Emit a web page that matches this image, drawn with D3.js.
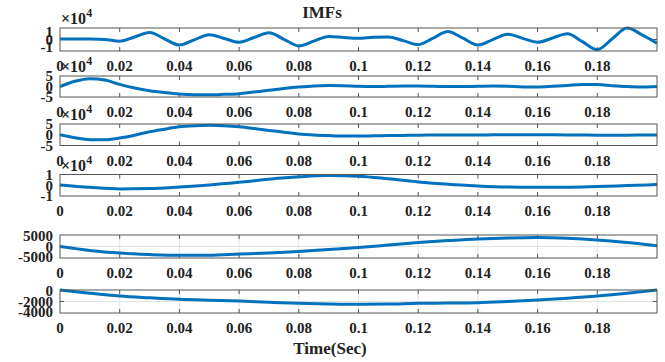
<!DOCTYPE html>
<html lang="en">
<head>
    <meta charset="UTF-8">
    <title>IMFs</title>
    <script src="https://d3js.org/d3.v7.min.js"></script>
    <style>
        body { margin: 0; background: #fff; }
        text { font-family: "Liberation Serif", "Times New Roman", serif; font-weight: bold; fill: #222; }
    </style>
</head>
<body>
    <svg width="665" height="362"></svg>
    <script>
        const width = 665, height = 362;

        // sample times (s)
        const tFine = [0, 0.005, 0.01, 0.015, 0.02, 0.025, 0.03, 0.035, 0.04, 0.045,
            0.05, 0.055, 0.06, 0.065, 0.07, 0.075, 0.08, 0.085, 0.09, 0.095,
            0.1, 0.105, 0.11, 0.115, 0.12, 0.125, 0.13, 0.135, 0.14, 0.145,
            0.15, 0.155, 0.16, 0.165, 0.17, 0.175, 0.18, 0.185, 0.19, 0.195, 0.2];
        const tCoarse = [0, 0.01, 0.02, 0.03, 0.04, 0.05, 0.06, 0.07, 0.08, 0.09, 0.1,
            0.11, 0.12, 0.13, 0.14, 0.15, 0.16, 0.17, 0.18, 0.19, 0.2];

        // IMF values (x10^4 for the first four)
        const imf1 = [0.05, 0.05, 0.04, 0.0, -0.15, 0.22, 0.6, 0.06, -0.48, -0.03,
            0.42, 0.09, -0.24, 0.17, 0.58, 0.02, -0.55, -0.14, 0.27, 0.17,
            0.1, 0.2, 0.22, -0.1, -0.45, 0.12, 0.7, 0.11, -0.48, -0.01,
            0.45, 0.1, -0.24, 0.13, 0.5, -0.19, -0.88, 0.06, 1.0, 0.4, -0.33];
        const imf2 = [0.0, 2.5, 3.7, 3.1, 1.0, -0.7, -2.0, -2.9, -3.6, -3.9,
            -3.9, -3.7, -3.4, -2.6, -1.8, -0.9, -0.2, 0.2, 0.5, 0.4,
            0.1, 0.0, 0.1, 0.2, 0.2, 0.1, 0.0, 0.0, 0.1, 0.2,
            0.1, -0.2, -0.2, 0.1, 0.5, 0.9, 0.9, 0.4, 0.0, -0.2, 0.0];
        const imf3 = [0.0, -1.4, -2.3, -2.3, -1.5, -0.2, 1.4, 2.6, 3.7, 4.2,
            4.4, 4.2, 3.7, 2.9, 2.0, 1.2, 0.4, -0.1, -0.4, -0.6,
            -0.6, -0.5, -0.4, -0.3, -0.2, -0.15, -0.1, -0.1, -0.1, -0.05,
            0.0, 0.0, 0.0, -0.05, -0.1, -0.15, -0.2, -0.2, -0.2, -0.15, -0.1];
        const imf4 = [0.03, -0.19, -0.34, -0.31, -0.16, 0.03, 0.28, 0.56, 0.78, 0.9,
            0.84, 0.6, 0.31, 0.09, -0.06, -0.16, -0.19, -0.19, -0.12, -0.03, 0.06];
        const imf5 = [0, -1700, -2850, -3500, -3850, -3800, -3300, -2800, -2140, -1300,
            -430, 650, 1720, 2570, 3300, 3730, 3860, 3600, 2870, 1720, 300];
        const imf6 = [0, -560, -1040, -1350, -1620, -1780, -1910, -2130, -2320, -2430,
            -2490, -2450, -2320, -2280, -2200, -1990, -1740, -1420, -1040, -560, 0];

        const xTicks = [0, 0.02, 0.04, 0.06, 0.08, 0.1, 0.12, 0.14, 0.16, 0.18];
        const yTicks1 = [-1, 0, 1];
        const yTicks5 = [-5, 0, 5];
        const yTicks5000 = [-5000, 0, 5000];
        const yTicks4000 = [-4000, -2000, 0];

        const panels = [
            { t: tFine, v: imf1, dom: [-1, 1], ticks: yTicks1, exp: true, grid: false },
            { t: tFine, v: imf2, dom: [-5, 5], ticks: yTicks5, exp: true, grid: false },
            { t: tFine, v: imf3, dom: [-5, 5], ticks: yTicks5, exp: true, grid: false },
            { t: tCoarse, v: imf4, dom: [-1, 1], ticks: yTicks1, exp: true, grid: false },
            { t: tCoarse, v: imf5, dom: [-5000, 5000], ticks: yTicks5000, exp: false, grid: true },
            { t: tCoarse, v: imf6, dom: [-4000, 0], ticks: yTicks4000, exp: false, grid: true }
        ];
        // vertical extent of each axes box, and how far the end y labels are pulled inward
        const boxes = [[28, 51], [76, 97], [124, 145.5], [174.5, 196], [235, 258], [290, 313]];
        const labelInset = [4, 0, 0, 0, 1, 1];

        const svg = d3.select("svg");
        const x = d3.scaleLinear().domain([0, 0.2]).range([60, 657]);
        const fmt = d => d === 0 ? "0" : String(d);
        const tickLen = 4;

        panels.forEach((p, i) => {
            const [top, bot] = boxes[i];
            const y = d3.scaleLinear().domain(p.dom).range([bot, top]);
            const g = svg.append("g");

            if (p.grid) {
                g.selectAll(".gx").data(xTicks.slice(1)).enter().append("line")
                    .attr("x1", d => x(d)).attr("x2", d => x(d))
                    .attr("y1", top).attr("y2", bot)
                    .attr("stroke", "#e3e3e3").attr("stroke-width", 1);
                g.selectAll(".gy").data(p.ticks.slice(1, -1)).enter().append("line")
                    .attr("x1", x.range()[0]).attr("x2", x.range()[1])
                    .attr("y1", d => y(d)).attr("y2", d => y(d))
                    .attr("stroke", "#e3e3e3").attr("stroke-width", 1);
            }

            // inward ticks on all four sides
            const tk = g.append("g").attr("stroke", "#555").attr("stroke-width", 1);
            xTicks.slice(1).forEach(d => {
                tk.append("line").attr("x1", x(d)).attr("x2", x(d)).attr("y1", bot).attr("y2", bot - tickLen);
                tk.append("line").attr("x1", x(d)).attr("x2", x(d)).attr("y1", top).attr("y2", top + tickLen);
            });
            p.ticks.slice(1, -1).forEach(d => {
                tk.append("line").attr("x1", x.range()[0]).attr("x2", x.range()[0] + tickLen).attr("y1", y(d)).attr("y2", y(d));
                tk.append("line").attr("x1", x.range()[1]).attr("x2", x.range()[1] - tickLen).attr("y1", y(d)).attr("y2", y(d));
            });

            const clipId = "clip" + i;
            svg.append("clipPath").attr("id", clipId).append("rect")
                .attr("x", x.range()[0]).attr("y", top - 2)
                .attr("width", x.range()[1] - x.range()[0]).attr("height", bot - top + 4);

            const line = d3.line()
                .x((d, j) => x(p.t[j]))
                .y(d => y(d))
                .curve(d3.curveMonotoneX);
            g.append("path")
                .datum(p.v)
                .attr("d", line)
                .attr("clip-path", `url(#${clipId})`)
                .attr("fill", "none")
                .attr("stroke", "#0072BD")
                .attr("stroke-width", 3)
                .attr("stroke-linejoin", "round");

            g.append("rect")
                .attr("x", x.range()[0]).attr("y", top)
                .attr("width", x.range()[1] - x.range()[0]).attr("height", bot - top)
                .attr("fill", "none").attr("stroke", "#555").attr("stroke-width", 1);

            // x tick labels
            g.selectAll(".xl").data(xTicks).enter().append("text")
                .attr("x", d => x(d)).attr("y", bot + 20)
                .attr("text-anchor", "middle").attr("font-size", 15)
                .text(fmt);

            // y tick labels
            const lo = p.dom[0], hi = p.dom[1];
            g.selectAll(".yl").data(p.ticks).enter().append("text")
                .attr("x", 53)
                .attr("y", d => y(d) + (d === hi ? labelInset[i] : d === lo ? -labelInset[i] : 0))
                .attr("dy", "0.35em")
                .attr("text-anchor", "end").attr("font-size", 15)
                .text(d => d);

            if (p.exp) {
                const e = g.append("text").attr("x", 61).attr("y", top - 4)
                    .attr("font-size", 16).attr("font-weight", "normal");
                e.append("tspan").text("×10");
                e.append("tspan").attr("font-size", 12).attr("dy", -7).text("4");
            }
        });

        svg.append("text").attr("x", 322).attr("y", 18)
            .attr("text-anchor", "middle").attr("font-size", 17).text("IMFs");
        svg.append("text").attr("x", 330).attr("y", 354)
            .attr("text-anchor", "middle").attr("font-size", 17).text("Time(Sec)");
    </script>
</body>
</html>
